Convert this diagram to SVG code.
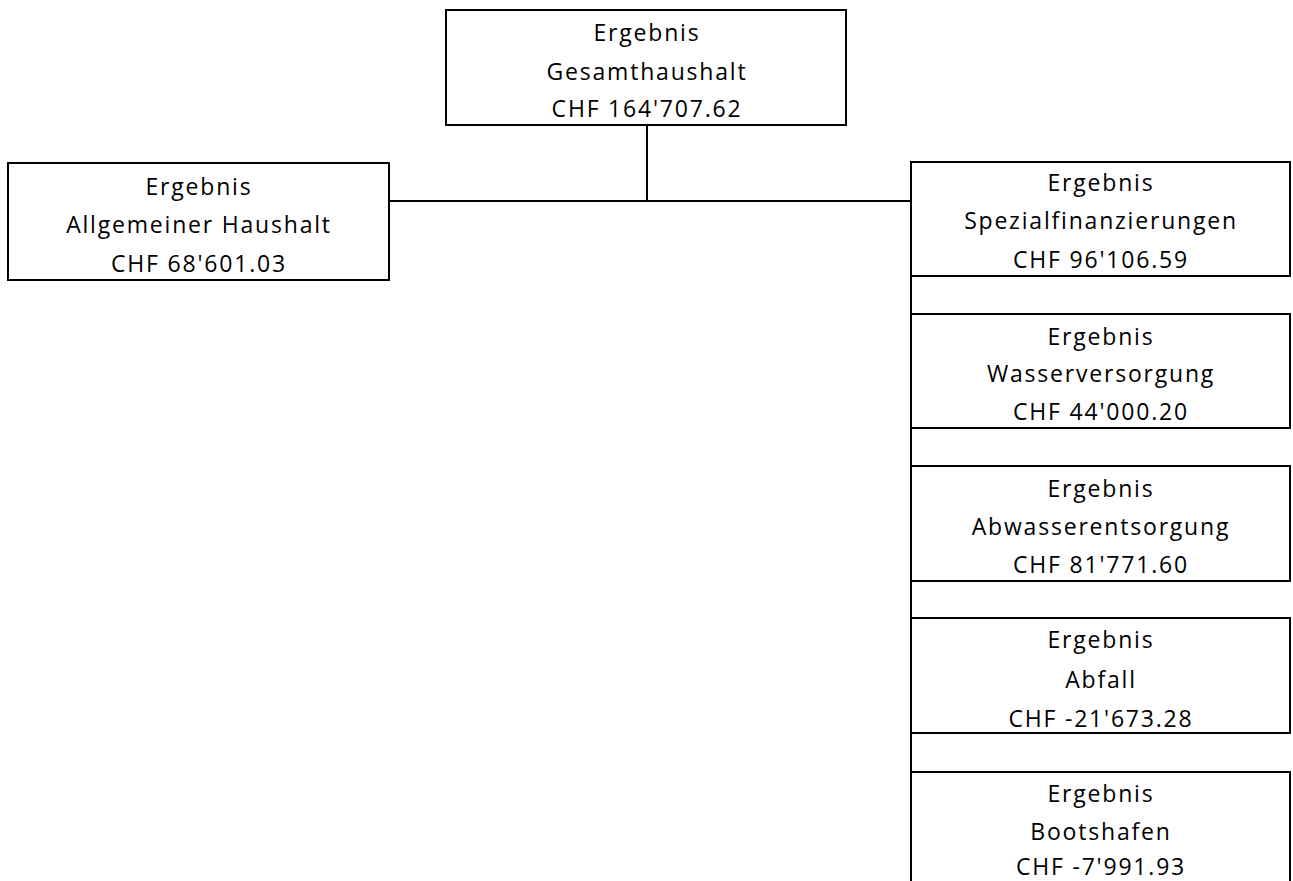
<svg xmlns="http://www.w3.org/2000/svg" width="1293" height="881" viewBox="0 0 1293 881">
<style>
.box{fill:#fff;stroke:#000;stroke-width:2}
.conn{fill:none;stroke:#000;stroke-width:2}
text{font-family:"Open Sans","Liberation Sans",sans-serif;font-size:23px;letter-spacing:1.8px;fill:#000;text-anchor:middle}
</style>
<rect width="1293" height="881" fill="#fff"/>
<g id="connectors">
<path class="conn" d="M647 125 V201"/>
<path class="conn" d="M389 201 H911"/>
<path class="conn" d="M911 162 V881"/>
</g>
<g id="n-gesamt">
<rect class="box" x="446" y="10" width="400" height="115"/>
<text x="647" y="41">Ergebnis</text>
<text x="647" y="80">Gesamthaushalt</text>
<text x="647" y="117">CHF 164'707.62</text>
</g>
<g id="n-allgemein">
<rect class="box" x="8" y="163" width="381" height="117"/>
<text x="199" y="195">Ergebnis</text>
<text x="199" y="233">Allgemeiner Haushalt</text>
<text x="199" y="272">CHF 68'601.03</text>
</g>
<g id="n-spezial">
<rect class="box" x="911" y="162" width="379" height="114"/>
<text x="1101" y="191">Ergebnis</text>
<text x="1101" y="229">Spezialfinanzierungen</text>
<text x="1101" y="268">CHF 96'106.59</text>
</g>
<g id="n-wasser">
<rect class="box" x="911" y="314" width="379" height="114"/>
<text x="1101" y="345">Ergebnis</text>
<text x="1101" y="382">Wasserversorgung</text>
<text x="1101" y="420">CHF 44'000.20</text>
</g>
<g id="n-abwasser">
<rect class="box" x="911" y="466" width="379" height="115"/>
<text x="1101" y="497">Ergebnis</text>
<text x="1101" y="535">Abwasserentsorgung</text>
<text x="1101" y="573">CHF 81'771.60</text>
</g>
<g id="n-abfall">
<rect class="box" x="911" y="618" width="379" height="115"/>
<text x="1101" y="648">Ergebnis</text>
<text x="1101" y="688">Abfall</text>
<text x="1101" y="727">CHF -21'673.28</text>
</g>
<g id="n-boots">
<rect class="box" x="911" y="772" width="379" height="120"/>
<text x="1101" y="802">Ergebnis</text>
<text x="1101" y="840">Bootshafen</text>
<text x="1101" y="875">CHF -7'991.93</text>
</g>
</svg>
